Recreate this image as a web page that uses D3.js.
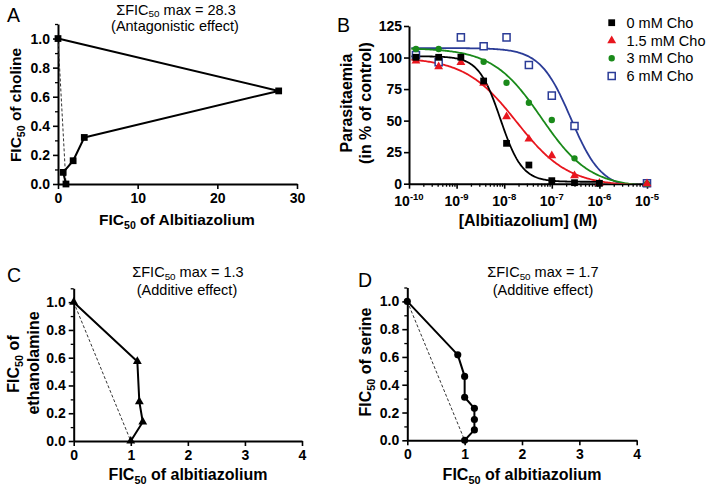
<!DOCTYPE html>
<html><head><meta charset="utf-8">
<script src="https://cdn.jsdelivr.net/npm/d3@7"></script>
<style>
body{margin:0;background:#fff;}
svg{display:block;font-family:"Liberation Sans",Arial,Helvetica,sans-serif;}
.axis text{font-weight:bold;font-size:14px;fill:#000;font-family:"Liberation Sans",Arial,sans-serif;}
</style></head><body>
<svg id="c" width="709" height="488"></svg>
<script>
// ---------- Panel A (choline isobologram) ----------
const aX = [0, 27.7, 3.3, 1.9, 0.65, 1.0];
const aY = [1.0, 0.64, 0.32, 0.16, 0.08, 0.0];
const aXTicks = [0, 10, 20, 30];
// ---------- Panel B (dose response) ----------
const bConc = [1.4e-10, 4.2e-10, 1.23e-9, 3.7e-9, 1.12e-8, 3.3e-8, 1e-7, 3e-7, 1e-6, 1e-5];
const bCho0  = [100.2, 100.2, 100.2, 81.4, 32, 14.8, 2.4, 0.8, 0.3, null];
const bCho15 = [97.3, 92.8, 96.2, 79.6, 53.1, 35.4, 22.2, 6.4, 0.5, 0];
const bCho3  = [106.8, 106.8, null, 96.7, 80, 64.2, 50.5, 20.1, 0.3, 0];
const bCho6  = [102, 96.2, 116, 109, 116, 94.1, 69.8, 45.7, null, 0.3];
const bNames = ["0 mM Cho", "1.5 mM Cho", "3 mM Cho", "6 mM Cho"];
// fitted sigmoid parameters
const bFitTop    = [101, 100, 107.5, 107.5];
const bFitBottom = [1.5, -2, -3, -4];
const bFitLogIC  = [-8.08, -7.74, -7.22, -6.6];
const bFitHill   = [1.9, 0.8, 0.85, 1.35];
const bXTickExp = [-10, -9, -8, -7, -6, -5];
const bYTicks = [0, 25, 50, 75, 100, 125];
// ---------- Panel C (ethanolamine) ----------
const cX = [0, 1.115, 1.15, 1.21, 1.0];
const cY = [1.0, 0.573, 0.284, 0.137, 0.0];
// ---------- Panel D (serine) ----------
const dX = [0, 0.88, 1.0, 1.0, 1.17, 1.17, 1.17, 1.0];
const dY = [1.0, 0.615, 0.46, 0.31, 0.23, 0.15, 0.075, 0.0];
const cdXTicks = [0, 1, 2, 3, 4];
const isoYTicks = [0, 0.2, 0.4, 0.6, 0.8, 1.0];
const isoYMinor = [0.1, 0.3, 0.5, 0.7, 0.9, 1.1];

const svg = d3.select('#c');
const FONT = '"Liberation Sans",Arial,sans-serif';

function richText(parent, x, y, parts, o) {
  const t = parent.append('text').attr('x', x).attr('y', y)
    .attr('text-anchor', o.anchor || 'middle').attr('font-size', o.size)
    .attr('font-weight', o.weight || 'normal').attr('fill', '#000')
    .attr('font-family', FONT);
  if (o.rotate) t.attr('transform', `rotate(-90 ${x} ${y})`);
  let shift = 0;
  const subShift = o.subShift !== undefined ? o.subShift : 0.28;
  parts.forEach(p => {
    const [txt, kind] = Array.isArray(p) ? p : [p, 'n'];
    const target = kind === 'sub' ? o.size * subShift : kind === 'sup' ? -o.size * 0.42 : 0;
    const ts = t.append('tspan').text(txt).attr('dy', target - shift);
    if (kind !== 'n') ts.attr('font-size', o.size * 0.68);
    shift = target;
  });
  return t;
}

function styleAxis(g) {
  g.attr('class', 'axis');
  g.select('.domain').attr('stroke', '#000').attr('stroke-width', 2);
  g.selectAll('.tick line').attr('stroke', '#000').attr('stroke-width', 1.6);
}
function minorAxis(parent, axisGen) {
  const g = parent.append('g').call(axisGen);
  g.select('.domain').remove();
  g.selectAll('.tick line').attr('stroke', '#000').attr('stroke-width', 1.3);
  g.selectAll('text').remove();
  return g;
}

// ---------- isobologram drawer ----------
function isobologram(cfg) {
  const x = d3.scaleLinear().domain(cfg.xDomain).range(cfg.xRange);
  const y = d3.scaleLinear().domain([0, 1.1]).range(cfg.yRange);
  const g = svg.append('g');
  minorAxis(g.append('g').attr('transform', `translate(${cfg.xRange[0]},0)`),
    d3.axisLeft(y).tickValues(isoYMinor).tickSize(3).tickFormat(''));
  g.append('g').attr('transform', `translate(${cfg.xRange[0]},0)`)
    .call(d3.axisLeft(y).tickValues(isoYTicks).tickSize(5).tickPadding(3).tickSizeOuter(0).tickFormat(d3.format('.1f')))
    .call(styleAxis);
  g.append('g').attr('transform', `translate(0,${cfg.yRange[0]})`)
    .call(d3.axisBottom(x).tickValues(cfg.xTicks).tickSize(5).tickPadding(4).tickSizeOuter(0).tickFormat(d3.format('d')))
    .call(styleAxis);
  g.append('line').attr('x1', x(0)).attr('y1', y(1)).attr('x2', x(1)).attr('y2', y(0))
    .attr('stroke', '#333').attr('stroke-width', 1).attr('stroke-dasharray', '3,2');
  const pts = cfg.xs.map((v, i) => [v, cfg.ys[i]]);
  g.append('path').datum(pts)
    .attr('d', d3.line().x(d => x(d[0])).y(d => y(d[1])))
    .attr('fill', 'none').attr('stroke', '#000').attr('stroke-width', 2).attr('stroke-linejoin', 'round');
  g.selectAll('path.m').data(pts).enter().append('path').attr('class', 'm')
    .attr('transform', d => `translate(${x(d[0])},${y(d[1])})`)
    .attr('d', d3.symbol().type(cfg.symbol).size(cfg.symSize))
    .attr('fill', '#000');
  return {x, y, g};
}

// Panel A
isobologram({xDomain: [0, 30], xRange: [58, 297], yRange: [184, 24], xTicks: aXTicks,
  xs: aX, ys: aY, symbol: d3.symbolSquare, symSize: 46});
richText(svg, 176, 14.5, ['ΣFIC', ['50', 'sub'], ' max = 28.3'], {size: 14.5, subShift: 0.2});
richText(svg, 175, 31, ['(Antagonistic effect)'], {size: 14.5});
richText(svg, 177, 225, ['FIC', ['50', 'sub'], ' of Albitiazolium'], {size: 15.5, weight: 'bold'});
richText(svg, 21, 105, ['FIC', ['50', 'sub'], ' of choline'], {size: 15.5, weight: 'bold', rotate: true});
richText(svg, 7, 22, ['A'], {size: 19.5, anchor: 'start'});

// Panel C
isobologram({xDomain: [0, 4], xRange: [73.7, 302], yRange: [441, 288.3], xTicks: cdXTicks,
  xs: cX, ys: cY, symbol: d3.symbolTriangle, symSize: 34});
richText(svg, 188, 277, ['ΣFIC', ['50', 'sub'], ' max = 1.3'], {size: 14.5, subShift: 0.2});
richText(svg, 187, 295, ['(Additive effect)'], {size: 14.5});
richText(svg, 188, 480, ['FIC', ['50', 'sub'], ' of albitiazolium'], {size: 16, weight: 'bold'});
richText(svg, 19, 364, ['FIC', ['50', 'sub'], ' of'], {size: 16, weight: 'bold', rotate: true});
richText(svg, 39, 363, ['ethanolamine'], {size: 16, weight: 'bold', rotate: true});
richText(svg, 7, 282, ['C'], {size: 19.5, anchor: 'start'});

// Panel D
isobologram({xDomain: [0, 4], xRange: [407.3, 636.7], yRange: [440.3, 287.5], xTicks: cdXTicks,
  xs: dX, ys: dY, symbol: d3.symbolCircle, symSize: 40});
richText(svg, 543, 277, ['ΣFIC', ['50', 'sub'], ' max = 1.7'], {size: 14.5, subShift: 0.2});
richText(svg, 543, 295, ['(Additive effect)'], {size: 14.5});
richText(svg, 522, 480, ['FIC', ['50', 'sub'], ' of albitiazolium'], {size: 16, weight: 'bold'});
richText(svg, 371, 362, ['FIC', ['50', 'sub'], ' of serine'], {size: 16, weight: 'bold', rotate: true});
richText(svg, 358, 287, ['D'], {size: 19.5, anchor: 'start'});

// ---------- Panel B ----------
(function () {
  const x = d3.scaleLog().domain([1e-10, 1e-5]).range([409, 647]);
  const y = d3.scaleLinear().domain([0, 125]).range([183.7, 26]);
  const g = svg.append('g');
  const minor = [];
  for (let e = -10; e < -5; e++) for (let k = 2; k <= 9; k++) minor.push(k * Math.pow(10, e));
  minorAxis(g.append('g').attr('transform', `translate(0,${y(0)})`),
    d3.axisBottom(x).tickValues(minor).tickSize(3).tickFormat(''));
  g.append('g').attr('transform', `translate(0,${y(0)})`)
    .call(d3.axisBottom(x).tickValues(bXTickExp.map(e => Math.pow(10, e))).tickSize(5).tickSizeOuter(0).tickFormat(''))
    .call(styleAxis);
  g.append('g').attr('transform', `translate(${x(1e-10)},0)`)
    .call(d3.axisLeft(y).tickValues(bYTicks).tickSize(5).tickPadding(2).tickSizeOuter(0).tickFormat(d3.format('d')))
    .call(styleAxis);
  bXTickExp.forEach(e => {
    richText(g, x(Math.pow(10, e)), 205.5, ['10', [String(e), 'sup']], {size: 14, weight: 'bold'});
  });
  const series = [bCho0, bCho15, bCho3, bCho6];
  const colors = ['#000000', '#e8161e', '#1a8a1a', '#2b3c97'];
  const symbols = [d3.symbolSquare, d3.symbolTriangle, d3.symbolCircle, d3.symbolSquare];
  const symSizes = [46, 34, 32, 50];
  const filled = [true, true, true, false];
  svg.append('clipPath').attr('id', 'bclip').append('rect')
    .attr('x', x(1e-10)).attr('y', 0).attr('width', 250).attr('height', y(0));
  for (let i = 3; i >= 0; i--) {
    let lastIdx = series[i].length - 1;
    while (series[i][lastIdx] === null) lastIdx--;
    const endLog = Math.log10(bConc[lastIdx]);
    const startLog = -9.95;
    const samples = d3.range(0, 201).map(j => startLog + j * ((endLog - startLog) / 200));
    const f = l => bFitBottom[i] + (bFitTop[i] - bFitBottom[i]) / (1 + Math.pow(10, (l - bFitLogIC[i]) * bFitHill[i]));
    g.append('path').datum(samples)
      .attr('d', d3.line().x(l => x(Math.pow(10, l))).y(l => y(f(l))))
      .attr('fill', 'none').attr('stroke', colors[i]).attr('stroke-width', 1.8)
      .attr('clip-path', 'url(#bclip)');
  }
  for (let i = 3; i >= 0; i--) {
    const pts = bConc.map((c, j) => [c, series[i][j]]).filter(d => d[1] !== null);
    g.selectAll(null).data(pts).enter().append('path')
      .attr('transform', d => `translate(${x(d[0])},${y(d[1])})`)
      .attr('d', d3.symbol().type(symbols[i]).size(symSizes[i]))
      .attr('fill', filled[i] ? colors[i] : '#fff')
      .attr('stroke', filled[i] ? 'none' : colors[i]).attr('stroke-width', 1.5);
  }
  const ly = [22.7, 40.7, 58.3, 76];
  bNames.forEach((n, i) => {
    g.append('path').attr('transform', `translate(611.7,${ly[i]})`)
      .attr('d', d3.symbol().type(symbols[i]).size(symSizes[i]))
      .attr('fill', filled[i] ? colors[i] : '#fff')
      .attr('stroke', filled[i] ? 'none' : colors[i]).attr('stroke-width', 1.5);
    g.append('text').attr('x', 626.5).attr('y', ly[i] + 5).text(n)
      .attr('font-size', 14.5).attr('font-family', FONT).attr('fill', '#000');
  });
  richText(svg, 528, 225.5, ['[Albitiazolium] (M)'], {size: 16, weight: 'bold'});
  richText(svg, 352, 103, ['Parasitaemia'], {size: 16, weight: 'bold', rotate: true});
  richText(svg, 371, 103, ['(in % of control)'], {size: 16, weight: 'bold', rotate: true});
  richText(svg, 337, 32, ['B'], {size: 19.5, anchor: 'start'});
})();
</script>
</body></html>
